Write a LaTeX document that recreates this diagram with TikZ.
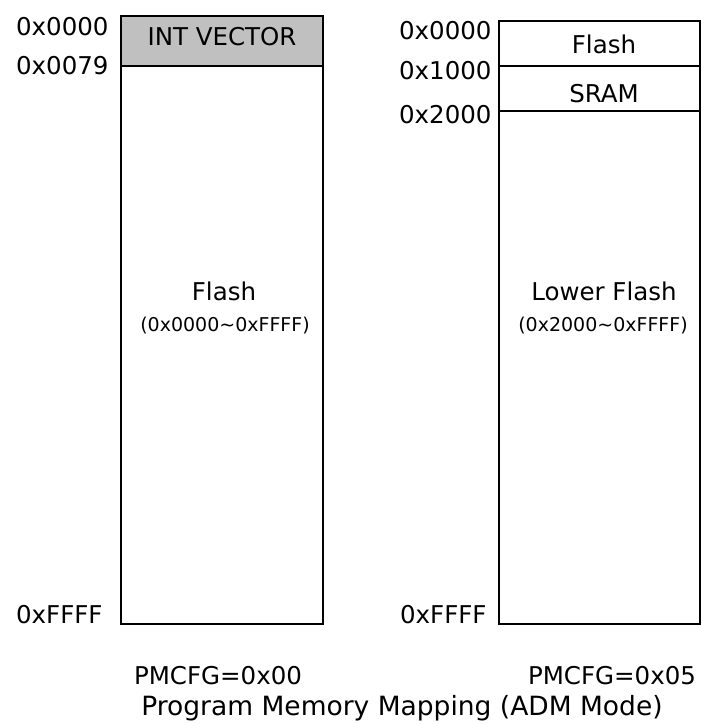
\documentclass[tikz,border=0pt]{standalone}
\usepackage{fontspec}
\setmainfont{DejaVu Sans}
\definecolor{vecgray}{RGB}{192,192,192}

\begin{document}
\begin{tikzpicture}[x=1pt, y=-1pt, line width=1.5pt,
    addr/.style={anchor=base west, font=\fontsize{24.5}{24.5}\selectfont},
    lbl/.style={anchor=base, font=\fontsize{24.5}{24.5}\selectfont},
    spanlbl/.style={anchor=base, font=\fontsize{19}{19}\selectfont}]

    \useasboundingbox (0,0) rectangle (701,724);

    % Coordinates
    \coordinate (LT) at (121,16);    % left map, top left
    \coordinate (LV) at (323,66);    % end of INT VECTOR
    \coordinate (LB) at (323,624);   % left map, bottom right
    \coordinate (RT) at (499,21);    % right map, top left
    \coordinate (RB) at (700,624);   % right map, bottom right

    % 1. Left map (PMCFG=0x00)
    \filldraw[fill=vecgray] (LT) rectangle (LV);
    \draw (LT) rectangle (LB);
    \node[lbl] (intvec) at (222,45) {INT VECTOR};
    \node[lbl] (lflash) at (224,300) {Flash};
    \node[spanlbl] (lspan) at (225,331) {(0x0000\textasciitilde 0xFFFF)};

    \node[addr] (l0000) at (12,35) {0x0000};
    \node[addr] (l0079) at (12,74) {0x0079};
    \node[addr] (lffff) at (12,623) {0xFFFF};

    % 2. Right map (PMCFG=0x05)
    \draw (RT) rectangle (RB);
    \draw (RT |- 0,66) -- (RB |- 0,66);
    \draw (RT |- 0,111) -- (RB |- 0,111);
    \node[lbl] (rflash) at (604,53) {Flash};
    \node[lbl] (sram) at (604,102) {SRAM};
    \node[lbl] (lowflash) at (604,300) {Lower Flash};
    \node[spanlbl] (rspan) at (603,331) {(0x2000\textasciitilde 0xFFFF)};

    \node[addr] (r0000) at (395,39) {0x0000};
    \node[addr] (r1000) at (395,79) {0x1000};
    \node[addr] (r2000) at (395,123) {0x2000};
    \node[addr] (rffff) at (396,623) {0xFFFF};

    % 3. Captions
    \node[lbl] (cfgl) at (218,684) {PMCFG=0x00};
    \node[lbl] (cfgr) at (612,684) {PMCFG=0x05};
    \node[lbl, font=\fontsize{26.5}{26.5}\selectfont] (title) at (402,715)
        {Program Memory Mapping (ADM Mode)};

\end{tikzpicture}
\end{document}
